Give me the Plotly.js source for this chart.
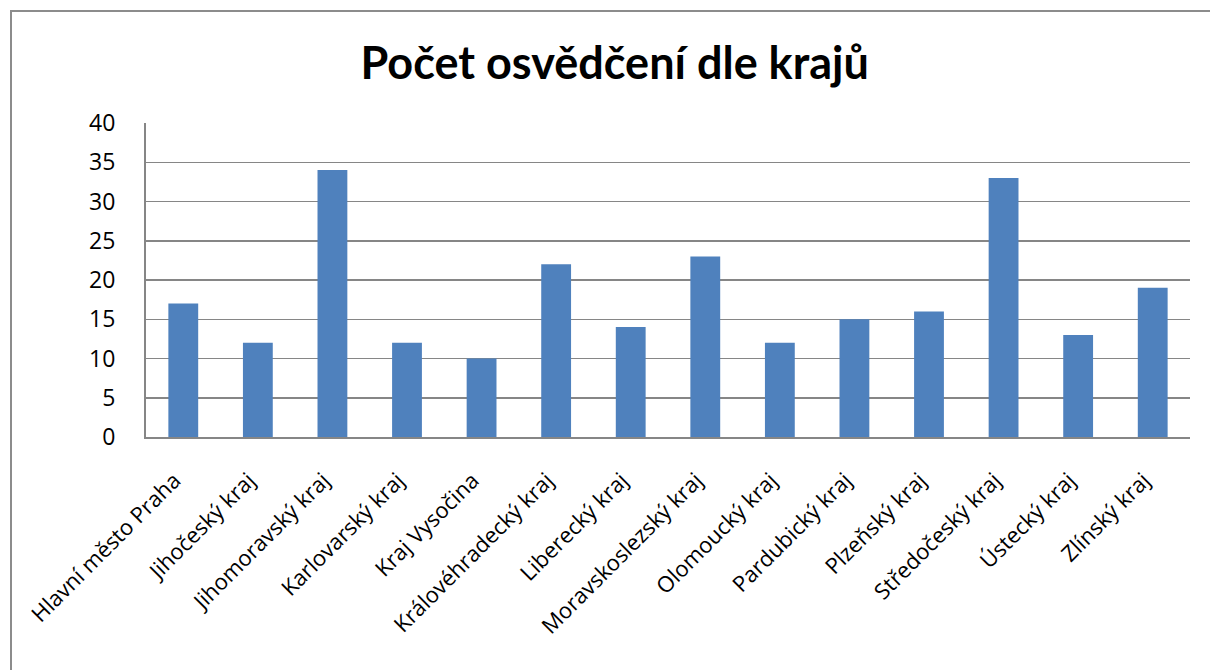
<!DOCTYPE html>
<html>
<head>
<meta charset="utf-8">
<script src="https://cdn.plot.ly/plotly-3.0.1.min.js"></script>
<style>
html,body{margin:0;padding:0;background:#fff;overflow:hidden;}
#wrap{position:relative;width:1210px;height:670px;}
#chart{position:absolute;left:0;top:0;width:1210px;height:670px;}
#frame{position:absolute;left:10px;top:10px;width:1300px;height:800px;border-left:2px solid #8c8c8c;border-top:2px solid #8c8c8c;pointer-events:none;}
</style>
</head>
<body>
<div id="wrap"><div id="chart"></div><div id="frame"></div></div>
<script>
const categories = ["Hlavní město Praha","Jihočeský kraj","Jihomoravský kraj","Karlovarský kraj","Kraj Vysočina","Královéhradecký kraj","Liberecký kraj","Moravskoslezský kraj","Olomoucký kraj","Pardubický kraj","Plzeňský kraj","Středočeský kraj","Ústecký kraj","Zlínský kraj"];
const values = [17, 12, 34, 12, 10, 22, 14, 23, 12, 15, 16, 33, 13, 19];
const yTicks = [0, 5, 10, 15, 20, 25, 30, 35, 40];

const titleFont = "Lato, 'Open Sans', sans-serif";
const font = "'Open Sans', Lato, sans-serif";
Plotly.newPlot('chart', [{
  type: 'bar',
  x: categories,
  y: values,
  marker: {color: '#4F81BD'},
  hoverinfo: 'x+y'
}], {
  width: 1210, height: 670,
  margin: {l: 146, r: 20, t: 123, b: 233},
  paper_bgcolor: '#fff', plot_bgcolor: '#fff',
  bargap: 0.6,
  showlegend: false,
  title: {text: 'Počet osvědčení dle krajů', x: 0.508, xref: 'container', xanchor: 'center', y: 0.905, yref: 'container', yanchor: 'middle',
          font: {family: titleFont, size: 45, color: '#000', weight: 'bold'}},
  xaxis: {
    type: 'category', tickangle: -45, showgrid: false,
    showline: true, linecolor: '#868686', linewidth: 2,
    ticks: '', tickfont: {family: font, size: 22, color: '#000'},
    ticklabelstandoff: 20, ticklabelshift: -9
  },
  yaxis: {
    range: [0, 40], tickvals: yTicks, ticktext: yTicks.map(String),
    showgrid: true, gridcolor: '#868686', gridwidth: 1.5,
    showline: true, linecolor: '#868686', linewidth: 2, mirror: false,
    zeroline: false, ticks: '', tickfont: {family: font, size: 23, color: '#000'},
    ticklabelstandoff: 24
  }
}, {displayModeBar: false, staticPlot: true});
</script>
</body>
</html>
